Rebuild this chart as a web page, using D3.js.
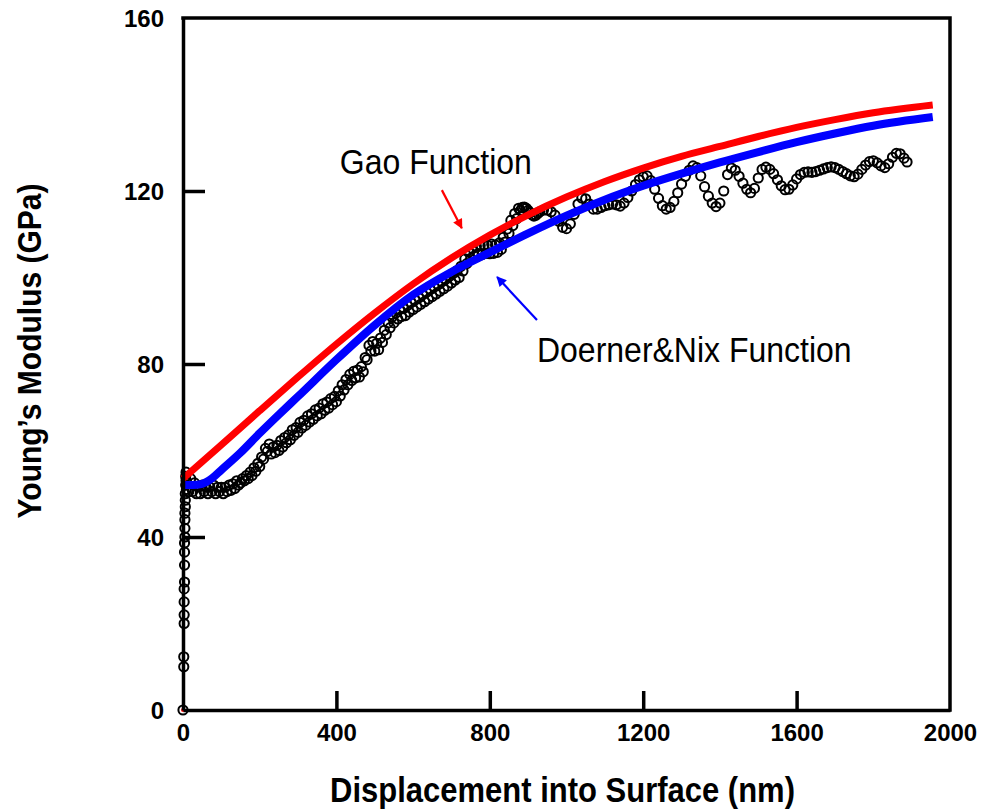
<!DOCTYPE html>
<html>
<head>
<meta charset="utf-8">
<script src="https://cdn.jsdelivr.net/npm/d3@7"></script>
<style>
  body { margin: 0; background: #fff; }
  text { font-family: "Liberation Sans", Arial, sans-serif; }
</style>
</head>
<body>
<div class="chart"></div>
<script>
// near-surface points (nm, GPa) - the vertical column at the origin
const nearSurface = [[0,0],[2,10],[2,12.3],[3,20],[3,22],[3,25],[3,28],[4,29.6],[4,33.5],[4,36.5],[4,38.6],
  [5,40],[5,42],[5,44],[5,45.5],[6,47],[6,48.5],[6,50],[7,52],[7,54],[8,55],[8,53],[9,51]]

// measured modulus (nm, GPa)
const measured = [
  [10,52.5],[15,50.5],[20,53.5],[25,50.5],[30,52.5],[35,50],[40,51.5],[45,50],[50,52],[55,50.5],[60,51.5],[65,50],
  [70,51.5],[75,50.5],[80,52],[85,50],[90,51.5],[95,50.5],[100,51.5],[105,50],[110,51.5],[115,50.5],[120,52],[125,50.8],
  [130,52.3],[135,51.2],[140,53],[145,52],[150,52.5],[155,53.5],[160,53],[165,54.2],[170,53.5],[175,55],[180,54.2],[185,56],
  [190,55.2],[195,57],[200,56.3],[205,58.5],[210,58],[215,60.5],[220,59.8],[225,61.5],[230,59.2],[235,60.8],[240,59.5],
  [245,61.2],[250,60],[255,62.3],[260,60.8],[265,63],[270,61.8],[275,63.6],[280,62.5],[285,64.8],[290,63.5],[295,65.3],
  [300,64.2],[305,66.5],[310,65.2],[315,67],[320,65.8],[325,68],[330,66.6],[335,68.5],[340,67.2],[345,69.4],[350,68],
  [355,69.8],[360,68.5],[365,70.8],[370,69.3],[375,71.2],[380,69.8],[385,72],[390,70.6],[395,72.5],[400,71.3],[405,73.8],
  [410,72.6],[415,75.2],[420,74],[425,76.4],[430,75.2],[435,77.6],[440,76.2],[445,78.3],[450,76.8],[455,78.6],[460,77],
  [465,79.4],[470,78.2],[475,81.5],[480,81],[485,84.3],[490,83],[495,85.2],[500,83],[505,84.8],[510,83.3],[515,86],
  [520,85],[525,87.8],[530,86.8],[535,89.5],[540,88.4],[545,90.8],[550,89.5],[555,91.8],[560,90.4],[565,92.6],[570,91],
  [575,92.8],[580,91.2],[585,93.5],[590,92],[595,94.2],[600,92.6],[605,94.8],[610,93.2],[615,95.3],[620,93.8],[625,96],
  [630,94.4],[635,96.6],[640,95],[645,97.2],[650,95.6],[655,97.8],[660,96.2],[665,98.3],[670,96.8],[675,99],[680,97.4],
  [685,99.6],[690,98],[695,100.3],[700,98.7],[705,101],[710,99.4],[715,101.6],[720,100],[725,102.6],[730,101.5],
  [735,104.3],[740,103.2],[745,105.8],[750,104.4],[755,106.7],[760,105],[765,107.2],[770,105.5],[775,107.4],[780,105.3],
  [785,107.5],[790,105.6],[795,107.4],[800,105.5],[805,107.7],[810,105.6],[815,107.5],[820,105.8],[825,108],[830,106.5],
  [835,109.3],[840,108.2],[845,111.2],[850,110.2],[855,113.2],[860,112],[865,114.8],[870,113.6],[875,116],[880,115.5],
  [885,116.2],[890,116.3],[895,116],[900,115.5],[905,115],[910,114.5],[915,114.2],[920,114.4],[925,114.8],[930,115.2],
  [940,115.6],[950,115.6],[960,115.2],[970,114.4],[980,113],[990,111.6],[1000,111.3],[1010,112.4],[1020,114.6],[1030,117],
  [1040,118.4],[1050,118.2],[1060,117],[1070,115.8],[1080,115.8],[1090,116.2],[1100,116.6],[1110,116.8],[1120,117],
  [1130,116.8],[1140,116.5],[1150,117.2],[1160,118.5],[1170,120],[1180,121.5],[1190,122.6],[1200,123.3],[1210,123.5],
  [1220,122.4],[1230,120.4],[1240,118.3],[1250,116.6],[1260,115.8],[1270,116.2],[1280,117.6],[1290,119.6],[1300,121.6],
  [1310,123.4],[1320,124.8],[1330,125.8],[1340,125.4],[1350,123.5],[1360,121],[1370,118.8],[1380,117.2],[1390,116.4],
  [1400,117.2],[1410,120],[1420,123.8],[1430,125.3],[1440,124.8],[1450,123.4],[1460,121.8],[1470,120.4],[1480,119.6],
  [1490,120.6],[1500,123],[1510,125],[1520,125.5],[1530,125],[1540,124],[1550,122.6],[1560,121.2],[1570,120.3],[1580,120.4],
  [1590,121.4],[1600,122.8],[1610,123.8],[1620,124.3],[1630,124.4],[1640,124.3],[1650,124.5],[1660,124.8],[1670,125.1],
  [1680,125.4],[1690,125.6],[1700,125.4],[1710,125],[1720,124.5],[1730,124],[1740,123.5],[1750,123.3],[1760,123.9],
  [1770,125],[1780,126],[1790,126.8],[1800,127],[1810,126.5],[1820,125.8],[1830,125.4],[1840,126.3],[1850,127.8],
  [1860,128.7],[1870,128.6],[1880,127.6],[1888,126.7]
]

// fitted curves
const gaoNm = [0,100,200,300,400,500,600,700,800,900,1000,1100,1200,1300,1400,1500,1600,1700,1800,1955]
const gaoE  = [53.5,61.3,69.2,77,84.6,91.8,98.5,104.5,109.8,114.5,118.6,122.2,125.3,128,130.3,132.6,134.7,136.5,138.1,139.9]
const dnNm  = [0,25,50,75,100,150,200,250,300,400,500,600,700,800,900,1000,1100,1200,1300,1400,1500,1600,1700,1800,1955]
const dnE   = [52,52,52.3,53.5,55.5,59.5,64,68.3,72.5,81,89,96,101.3,105.8,110.2,114.3,118,121.2,124,126.6,129,131.3,133.3,135.1,137.1]

const xTicks = [0,400,800,1200,1600,2000]
const yTicks = [0,40,80,120,160]

const width = 988, height = 811
const margin = { top: 18, right: 38, bottom: 101, left: 183 }

const svg = d3.select(".chart")
  .append("svg")
  .attr("width", width)
  .attr("height", height)

const x = d3.scaleLinear().domain([0, 2000]).range([margin.left, width - margin.right])
const y = d3.scaleLinear().domain([0, 160]).range([height - margin.bottom, margin.top])

// data circles
svg.append("g")
  .selectAll("circle")
  .data(nearSurface.concat(measured))
  .enter()
  .append("circle")
  .attr("cx", d => x(d[0]))
  .attr("cy", d => y(d[1]))
  .attr("r", 4.6)
  .style("fill", "none")
  .style("stroke", "#000")
  .style("stroke-width", 2)

svg.append("circle")
  .attr("cx", x(0)).attr("cy", y(0)).attr("r", 2)
  .style("fill", "red")

// fit lines
const line = d3.line().x(d => x(d[0])).y(d => y(d[1])).curve(d3.curveMonotoneX)

svg.append("path")
  .datum(gaoNm.map((d, i) => [d, gaoE[i]]))
  .attr("d", line)
  .style("fill", "none")
  .style("stroke", "#ff0000")
  .style("stroke-width", 7)

svg.append("path")
  .datum(dnNm.map((d, i) => [d, dnE[i]]))
  .attr("d", line)
  .style("fill", "none")
  .style("stroke", "#0000ff")
  .style("stroke-width", 8)

// axes
const xAxis = svg.append("g")
  .attr("transform", `translate(0,${y(0)})`)
  .call(d3.axisBottom(x).tickValues(xTicks).tickSizeInner(-19).tickSizeOuter(0).tickPadding(0).tickFormat(d3.format("d")))
xAxis.select(".domain").style("stroke-width", 3.5)
xAxis.selectAll(".tick line").style("stroke-width", 3.5)
xAxis.selectAll(".tick text")
  .attr("y", 14)
  .style("font-size", "24px").style("font-weight", "bold")
xAxis.selectAll(".tick").filter(d => d === 0 || d === 2000).select("line").remove()

const yAxis = svg.append("g")
  .attr("transform", `translate(${x(0)},0)`)
  .call(d3.axisLeft(y).tickValues(yTicks).tickSizeInner(-22).tickSizeOuter(0).tickPadding(0).tickFormat(d3.format("d")))
yAxis.select(".domain").style("stroke-width", 3.5)
yAxis.selectAll(".tick line").style("stroke-width", 3.5)
yAxis.selectAll(".tick text")
  .attr("x", -19)
  .attr("dy", "0.36em")
  .style("font-size", "24px").style("font-weight", "bold")
yAxis.selectAll(".tick").filter(d => d === 0 || d === 160).select("line").remove()

// frame top and right
svg.append("path")
  .attr("d", `M${x(0)},${y(160)}H${x(2000)}V${y(0)}`)
  .style("fill", "none")
  .style("stroke", "#000")
  .style("stroke-width", 3.5)
  .style("stroke-linecap", "square")

// axis titles
svg.append("text")
  .attr("transform", `translate(${(x(0) + x(2000)) / 2 - 4},802) scale(1,1.12)`)
  .attr("text-anchor", "middle")
  .style("font-size", "31px").style("font-weight", "bold")
  .text("Displacement into Surface (nm)")

svg.append("text")
  .attr("transform", `translate(41,351) rotate(-90) scale(1,1.12)`)
  .attr("text-anchor", "middle")
  .style("font-size", "30px").style("font-weight", "bold")
  .text("Young\u2019s Modulus (GPa)")

// annotations
const defs = svg.append("defs")
;[["red", "#ff0000"], ["blue", "#0000ff"]].forEach(([id, c]) => {
  defs.append("marker")
    .attr("id", "head-" + id)
    .attr("viewBox", "0 0 10 10")
    .attr("refX", 9).attr("refY", 5)
    .attr("markerWidth", 12).attr("markerHeight", 10)
    .attr("markerUnits", "userSpaceOnUse")
    .attr("orient", "auto")
    .append("path").attr("d", "M0,0L10,5L0,10z").style("fill", c)
})

svg.append("line")
  .attr("x1", x(675)).attr("y1", y(120.2)).attr("x2", x(727)).attr("y2", y(111.4))
  .style("stroke", "#ff0000").style("stroke-width", 2.2)
  .attr("marker-end", "url(#head-red)")

svg.append("line")
  .attr("x1", x(923)).attr("y1", y(90.2)).attr("x2", x(819)).attr("y2", y(100.1))
  .style("stroke", "#0000ff").style("stroke-width", 2.2)
  .attr("marker-end", "url(#head-blue)")

svg.append("text")
  .attr("transform", `translate(${x(409)},${y(124)}) scale(1,1.1)`)
  .style("font-size", "32px")
  .text("Gao Function")

svg.append("text")
  .attr("transform", `translate(${x(923)},${y(80.5)}) scale(1,1.1)`)
  .style("font-size", "32px")
  .text("Doerner&Nix Function")
</script>
</body>
</html>
